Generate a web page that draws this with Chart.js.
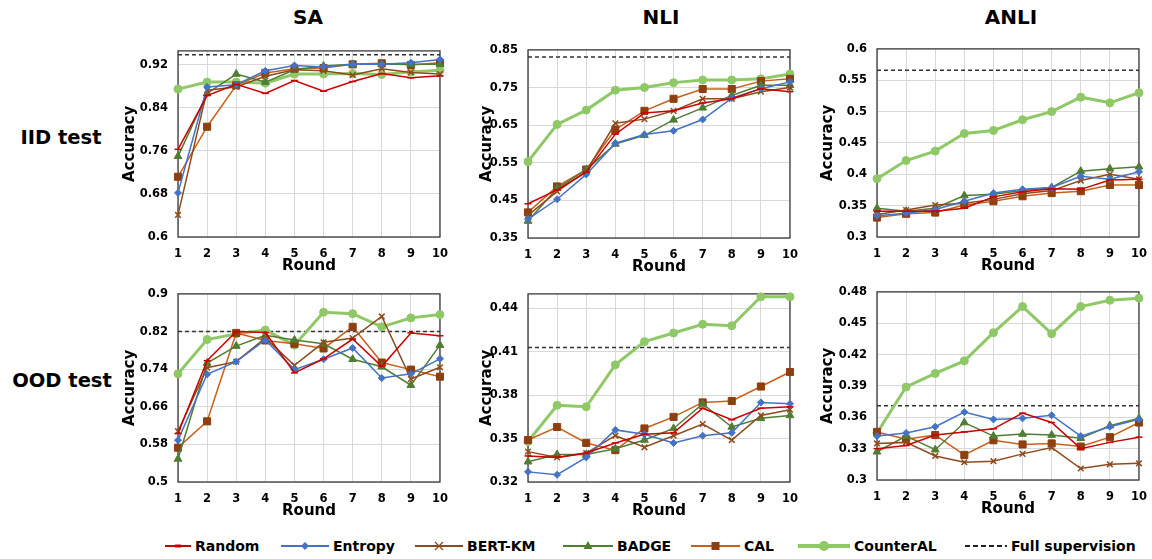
<!DOCTYPE html>
<html>
<head>
<meta charset="utf-8">
<script src="https://cdn.jsdelivr.net/npm/chart.js@4.4.1/dist/chart.umd.min.js"></script>
<style>
  html, body { margin: 0; padding: 0; background: #fff; }
  #page {
    position: relative; width: 1152px; height: 559px; overflow: hidden;
    font-family: "DejaVu Sans", Verdana, sans-serif; font-weight: bold; color: #000;
  }
  .panel { position: absolute; }
  .col-title { position: absolute; top: 17px; font-size: 20px; transform: translate(-50%, -50%); }
  .row-title { position: absolute; font-size: 19.5px; white-space: nowrap; transform: translate(-50%, -50%); }
  .legend-item {
    position: absolute; top: 546px; transform: translateY(-50%);
    display: flex; align-items: center; font-size: 14px; white-space: nowrap;
  }
  .legend-item svg { display: block; margin-right: 4px; }
</style>
</head>
<body>
<div id="page">
  <div class="col-title" style="left:308px">SA</div>
  <div class="col-title" style="left:661px">NLI</div>
  <div class="col-title" style="left:1011px">ANLI</div>
  <div class="row-title" style="left:61px; top:137px">IID test</div>
  <div class="row-title" style="left:62px; top:380px">OOD test</div>
  <div id="legend"></div>
</div>
<script>
const rounds = ["1", "2", "3", "4", "5", "6", "7", "8", "9", "10"];
const methods = ["Random", "Entropy", "BERT-KM", "BADGE", "CAL", "CounterAL"];

// SA, IID test
const saIidRandom    = [0.763, 0.863, 0.884, 0.867, 0.891, 0.871, 0.889, 0.904, 0.896, 0.900];
const saIidEntropy   = [0.682, 0.879, 0.883, 0.909, 0.919, 0.916, 0.921, 0.921, 0.924, 0.930];
const saIidBertKm    = [0.641, 0.873, 0.879, 0.899, 0.911, 0.909, 0.901, 0.913, 0.906, 0.903];
const saIidBadge     = [0.750, 0.867, 0.903, 0.888, 0.911, 0.918, 0.921, 0.921, 0.921, 0.921];
const saIidCal       = [0.712, 0.805, 0.882, 0.905, 0.913, 0.914, 0.921, 0.923, 0.920, 0.924];
const saIidCounterAl = [0.875, 0.888, 0.888, 0.886, 0.903, 0.903, 0.904, 0.902, 0.907, 0.910];

// NLI, IID test
const nliIidRandom    = [0.441, 0.478, 0.525, 0.626, 0.682, 0.688, 0.709, 0.720, 0.747, 0.739];
const nliIidEntropy   = [0.400, 0.453, 0.519, 0.602, 0.625, 0.635, 0.665, 0.722, 0.747, 0.765];
const nliIidBertKm    = [0.410, 0.474, 0.527, 0.655, 0.666, 0.688, 0.720, 0.720, 0.739, 0.750];
const nliIidBadge     = [0.395, 0.482, 0.532, 0.600, 0.623, 0.664, 0.696, 0.729, 0.756, 0.756];
const nliIidCal       = [0.418, 0.487, 0.532, 0.638, 0.688, 0.720, 0.746, 0.746, 0.767, 0.773];
const nliIidCounterAl = [0.553, 0.652, 0.690, 0.743, 0.750, 0.763, 0.770, 0.770, 0.773, 0.786];

// ANLI, IID test
const anliIidRandom    = [0.341, 0.341, 0.341, 0.346, 0.364, 0.372, 0.377, 0.376, 0.391, 0.392];
const anliIidEntropy   = [0.334, 0.338, 0.344, 0.357, 0.370, 0.376, 0.379, 0.397, 0.392, 0.404];
const anliIidBertKm    = [0.336, 0.343, 0.351, 0.354, 0.360, 0.369, 0.374, 0.390, 0.400, 0.392];
const anliIidBadge     = [0.346, 0.341, 0.346, 0.366, 0.368, 0.374, 0.379, 0.405, 0.409, 0.412];
const anliIidCal       = [0.331, 0.337, 0.339, 0.351, 0.357, 0.365, 0.370, 0.373, 0.383, 0.383];
const anliIidCounterAl = [0.393, 0.422, 0.437, 0.465, 0.470, 0.487, 0.500, 0.523, 0.514, 0.530];

// SA, OOD test
const saOodRandom    = [0.603, 0.758, 0.820, 0.818, 0.732, 0.762, 0.804, 0.746, 0.817, 0.811];
const saOodEntropy   = [0.589, 0.729, 0.756, 0.802, 0.739, 0.761, 0.785, 0.721, 0.730, 0.762];
const saOodBertKm    = [0.608, 0.743, 0.756, 0.806, 0.748, 0.797, 0.806, 0.852, 0.719, 0.744];
const saOodBadge     = [0.549, 0.753, 0.789, 0.812, 0.802, 0.794, 0.761, 0.745, 0.706, 0.791];
const saOodCal       = [0.573, 0.629, 0.817, 0.801, 0.794, 0.784, 0.830, 0.754, 0.739, 0.724];
const saOodCounterAl = [0.730, 0.803, 0.815, 0.823, 0.791, 0.861, 0.858, 0.830, 0.849, 0.856];

// NLI, OOD test
const nliOodRandom    = [0.338, 0.337, 0.340, 0.347, 0.353, 0.354, 0.371, 0.363, 0.371, 0.372];
const nliOodEntropy   = [0.327, 0.325, 0.337, 0.356, 0.353, 0.347, 0.352, 0.354, 0.375, 0.374];
const nliOodBertKm    = [0.341, 0.337, 0.340, 0.352, 0.344, 0.352, 0.360, 0.349, 0.366, 0.370];
const nliOodBadge     = [0.334, 0.339, 0.339, 0.343, 0.349, 0.357, 0.374, 0.358, 0.364, 0.366];
const nliOodCal       = [0.349, 0.358, 0.347, 0.342, 0.357, 0.365, 0.375, 0.376, 0.386, 0.396];
const nliOodCounterAl = [0.348, 0.373, 0.372, 0.401, 0.417, 0.423, 0.429, 0.428, 0.448, 0.448];

// ANLI, OOD test
const anliOodRandom    = [0.330, 0.333, 0.343, 0.346, 0.349, 0.364, 0.355, 0.330, 0.336, 0.341];
const anliOodEntropy   = [0.342, 0.345, 0.351, 0.365, 0.358, 0.359, 0.362, 0.342, 0.351, 0.358];
const anliOodBertKm    = [0.335, 0.336, 0.323, 0.317, 0.318, 0.325, 0.331, 0.311, 0.315, 0.316];
const anliOodBadge     = [0.327, 0.342, 0.329, 0.355, 0.342, 0.344, 0.343, 0.340, 0.352, 0.359];
const anliOodCal       = [0.346, 0.339, 0.343, 0.324, 0.338, 0.334, 0.335, 0.332, 0.341, 0.355];
const anliOodCounterAl = [0.345, 0.389, 0.402, 0.414, 0.441, 0.466, 0.440, 0.466, 0.472, 0.474];

// full supervision reference, per panel (SA/NLI/ANLI IID, then OOD)
const fullSupervision = [0.939, 0.831, 0.566, 0.820, 0.413, 0.371];

const saIidTicks   = [0.6, 0.68, 0.76, 0.84, 0.92];
const nliIidTicks  = [0.35, 0.45, 0.55, 0.65, 0.75, 0.85];
const anliIidTicks = [0.3, 0.35, 0.4, 0.45, 0.5, 0.55, 0.6];
const saOodTicks   = [0.5, 0.58, 0.66, 0.74, 0.82, 0.9];
const nliOodTicks  = [0.32, 0.35, 0.38, 0.41, 0.44];
const anliOodTicks = [0.3, 0.33, 0.36, 0.39, 0.42, 0.45, 0.48];

const FONT = "'DejaVu Sans', Verdana, sans-serif";
const Y_AXIS_W = 70, X_AXIS_H = 38, PAD_TOP = 10, PAD_RIGHT = 14;

const methodStyles = [
  { color: "#cc0000", fill: "#cc0000", point: "line",     radius: 3.5, width: 1.5 },
  { color: "#4472c4", fill: "#4472c4", point: "rectRot",  radius: 3.5, width: 1.5 },
  { color: "#8e4a1c", fill: "#8e4a1c", point: "crossRot", radius: 4,   width: 1.5 },
  { color: "#4f7d33", fill: "#4f7d33", point: "triangle", radius: 4.5, width: 1.5 },
  { color: "#c9601a", fill: "#8e3f10", point: "rect",     radius: 5,   width: 1.5 },
  { color: "#8fc866", fill: "#8fc866", point: "circle",   radius: 4,   width: 3 },
];

const panels = [
  { left: 178, top: 44, height: 193, min: 0.6, max: 0.946, ticks: saIidTicks, titleGap: 13,
    series: [saIidRandom, saIidEntropy, saIidBertKm, saIidBadge, saIidCal, saIidCounterAl] },
  { left: 528, top: 43, height: 195, min: 0.35, max: 0.85, ticks: nliIidTicks, titleGap: 20,
    series: [nliIidRandom, nliIidEntropy, nliIidBertKm, nliIidBadge, nliIidCal, nliIidCounterAl] },
  { left: 877, top: 42, height: 195, min: 0.3, max: 0.6, ticks: anliIidTicks, titleGap: 12,
    series: [anliIidRandom, anliIidEntropy, anliIidBertKm, anliIidBadge, anliIidCal, anliIidCounterAl] },
  { left: 178, top: 287, height: 195, min: 0.5, max: 0.9, ticks: saOodTicks, titleGap: 13,
    series: [saOodRandom, saOodEntropy, saOodBertKm, saOodBadge, saOodCal, saOodCounterAl] },
  { left: 528, top: 287, height: 195, min: 0.32, max: 0.45, ticks: nliOodTicks, titleGap: 20,
    series: [nliOodRandom, nliOodEntropy, nliOodBertKm, nliOodBadge, nliOodCal, nliOodCounterAl] },
  { left: 877, top: 285, height: 195, min: 0.3, max: 0.48, ticks: anliOodTicks, titleGap: 12,
    series: [anliOodRandom, anliOodEntropy, anliOodBertKm, anliOodBadge, anliOodCal, anliOodCounterAl] },
];
const PLOT_W = 266;

// dark frame round the plot area, like the spreadsheet charts
const plotFrame = {
  id: "plotFrame",
  beforeDatasetsDraw(chart) {
    const { ctx, chartArea: a } = chart;
    ctx.save();
    ctx.strokeStyle = "#3a3a3a";
    ctx.lineWidth = 1.3;
    ctx.strokeRect(a.left, a.top, a.right - a.left, a.bottom - a.top);
    ctx.restore();
  },
};

function buildDatasets(panel, fullValue) {
  const sets = panel.series.map((values, i) => {
    const s = methodStyles[i];
    return {
      label: methods[i],
      data: values,
      borderColor: s.color,
      backgroundColor: s.fill,
      borderWidth: s.width,
      pointStyle: s.point,
      pointRadius: s.radius,
      pointBackgroundColor: s.fill,
      pointBorderColor: s.point === "rect" ? s.fill : s.color,
      pointBorderWidth: s.point === "crossRot" || s.point === "line" ? 1.5 : 1,
      tension: 0,
      clip: false,
    };
  });
  sets.push({
    label: "Full supervision",
    data: [{ x: rounds[0], y: fullValue }, { x: rounds[rounds.length - 1], y: fullValue }],
    borderColor: "#333",
    borderWidth: 1.5,
    borderDash: [4, 3],
    pointRadius: 0,
    clip: false,
  });
  return sets;
}

function renderPanel(panel, index) {
  const wrap = document.createElement("div");
  wrap.className = "panel";
  wrap.style.left = (panel.left - Y_AXIS_W) + "px";
  wrap.style.top = (panel.top - PAD_TOP) + "px";
  const canvas = document.createElement("canvas");
  canvas.width = Y_AXIS_W + PLOT_W + PAD_RIGHT;
  canvas.height = PAD_TOP + panel.height + X_AXIS_H;
  wrap.appendChild(canvas);
  document.getElementById("page").appendChild(wrap);

  const tickFont = { family: FONT, size: 11.5, weight: "bold" };
  const titleFont = { family: FONT, size: 15, weight: "bold" };

  new Chart(canvas, {
    type: "line",
    data: { labels: rounds, datasets: buildDatasets(panel, fullSupervision[index]) },
    options: {
      responsive: false,
      animation: false,
      events: [],
      layout: { padding: { top: PAD_TOP, right: PAD_RIGHT, left: 0, bottom: 0 } },
      plugins: { legend: { display: false }, tooltip: { enabled: false } },
      scales: {
        x: {
          type: "category",
          offset: false,
          grid: { color: "#d9d9d9", lineWidth: 1, drawTicks: false, offset: false },
          border: { display: false },
          ticks: { color: "#000", font: tickFont, padding: 10, maxRotation: 0, autoSkip: false },
          title: { display: true, text: "Round", color: "#000", font: titleFont, padding: { top: 0, bottom: 0 } },
          afterFit: (scale) => { scale.height = X_AXIS_H; },
        },
        y: {
          min: panel.min,
          max: panel.max,
          afterBuildTicks: (scale) => { scale.ticks = panel.ticks.map(v => ({ value: v })); },
          grid: { color: "#d9d9d9", lineWidth: 1, drawTicks: false },
          border: { display: false },
          ticks: { color: "#000", font: tickFont, padding: 10, callback: (v) => String(v) },
          title: { display: true, text: "Accuracy", color: "#000", font: titleFont,
                   padding: { top: panel.titleGap, bottom: 0 } },
          afterFit: (scale) => { scale.width = Y_AXIS_W; },
        },
      },
    },
    plugins: [plotFrame],
  });
}

function legendMarker(style, w) {
  const mid = w / 2, y = 7;
  let line = `<line x1="0" y1="${y}" x2="${w}" y2="${y}" stroke="${style.color}" stroke-width="${style.width === 3 ? 4 : 2}"/>`;
  let mark = "";
  if (style.point === "rectRot") {
    mark = `<polygon points="${mid},${y - 4} ${mid + 4},${y} ${mid},${y + 4} ${mid - 4},${y}" fill="${style.fill}"/>`;
  } else if (style.point === "crossRot") {
    mark = `<path d="M${mid - 4} ${y - 4} L${mid + 4} ${y + 4} M${mid + 4} ${y - 4} L${mid - 4} ${y + 4}" stroke="${style.color}" stroke-width="1.2"/>`;
  } else if (style.point === "triangle") {
    mark = `<polygon points="${mid},${y - 5} ${mid + 4.5},${y + 3} ${mid - 4.5},${y + 3}" fill="${style.fill}"/>`;
  } else if (style.point === "rect") {
    mark = `<rect x="${mid - 4}" y="${y - 4}" width="8" height="8" fill="${style.fill}"/>`;
  } else if (style.point === "circle") {
    mark = `<circle cx="${mid}" cy="${y}" r="5" fill="${style.fill}"/>`;
  } else if (style.point === "line") {
    mark = `<line x1="${mid - 3}" y1="${y}" x2="${mid + 3}" y2="${y}" stroke="${style.color}" stroke-width="3"/>`;
  }
  return `<svg width="${w}" height="14">${line}${mark}</svg>`;
}

function renderLegend() {
  const legend = document.getElementById("legend");
  const slots = [
    { left: 165, w: 26 }, { left: 281, w: 48 }, { left: 415, w: 48 },
    { left: 563, w: 50 }, { left: 691, w: 49 }, { left: 798, w: 52 },
  ];
  let html = methods.map((name, i) => `
    <div class="legend-item" style="left:${slots[i].left}px">
      ${legendMarker(methodStyles[i], slots[i].w)}<span>${name}</span>
    </div>`).join("");
  html += `
    <div class="legend-item" style="left:965px">
      <svg width="42" height="14"><line x1="0" y1="7" x2="42" y2="7" stroke="#222" stroke-width="2" stroke-dasharray="5,3"/></svg><span>Full supervision</span>
    </div>`;
  legend.innerHTML = html;
}

panels.forEach(renderPanel);
renderLegend();
</script>
</body>
</html>
